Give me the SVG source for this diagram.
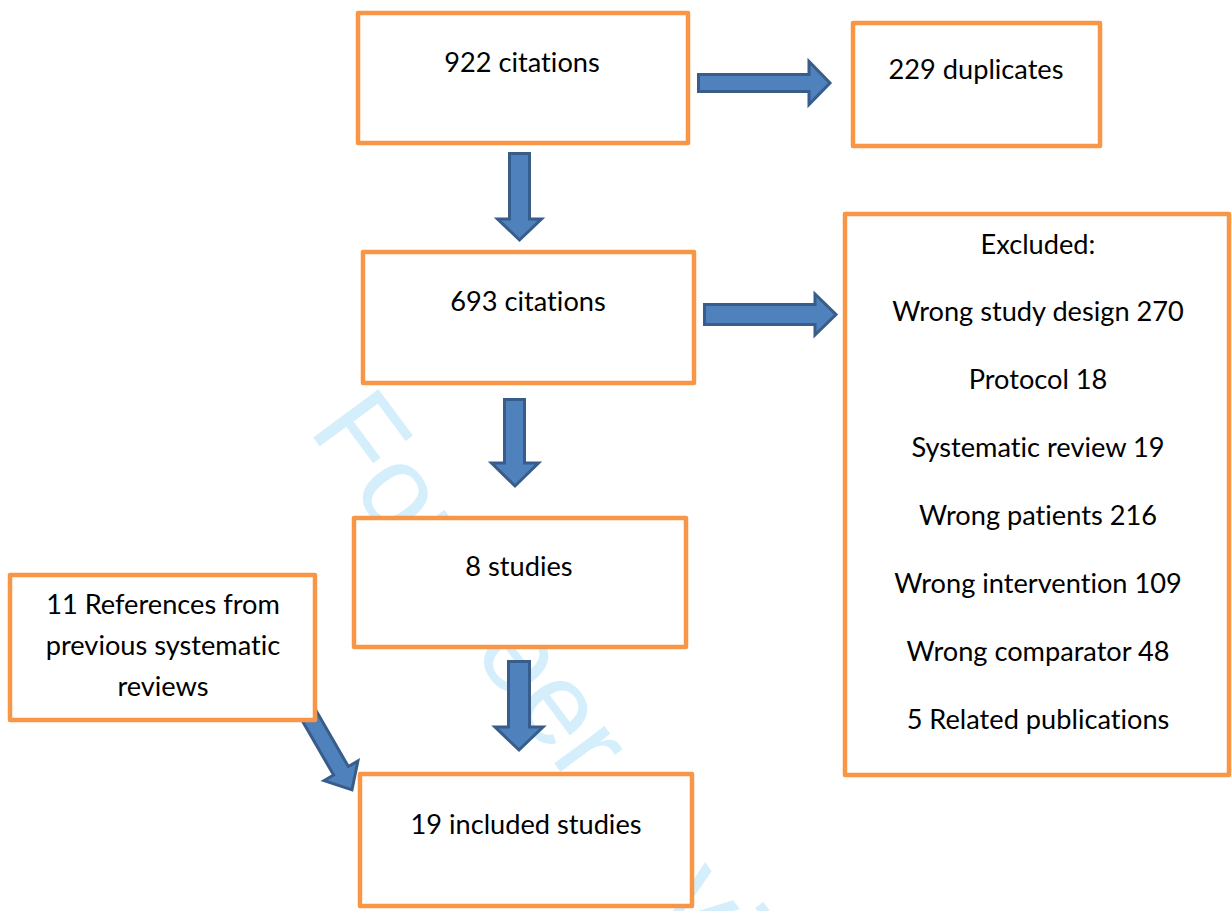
<svg xmlns="http://www.w3.org/2000/svg" width="1232" height="911" viewBox="0 0 1232 911">
<style>
.box{fill:#fff;stroke:#F79646;stroke-width:4.5;stroke-linejoin:round}
.arr{fill:#4F81BD;stroke:#385D8A;stroke-width:3;stroke-linejoin:miter}
.t{font-family:Lato,"Liberation Sans",sans-serif;font-size:27.2px;fill:#000;text-anchor:middle;font-variant-ligatures:none}
.wm{font-family:"Liberation Sans",Arial,sans-serif;font-size:118px;fill:#D4EEFB}
</style>
<rect width="1232" height="911" fill="#fff"/>
<text class="wm" transform="translate(307.6,429.8) rotate(53.5)">For peer review</text>
<g id="connectors">
<path class="arr" d="M698.5,74.5 H809 V61.5 L830,83 L809,104.5 V91.5 H698.5 Z"/>
<path class="arr" d="M704.5,304.5 H815 V294 L836,314.5 L815,335 V324.5 H704.5 Z"/>
<path class="arr" d="M509.5,153.5 V219 H497.5 L519.5,240 L541.5,219 H529.5 V153.5 Z"/>
<path class="arr" d="M504.5,399.5 V463 H491.5 L515,486 L538.5,463 H524.5 V399.5 Z"/>
<path class="arr" d="M508.5,661.5 V727 H495 L519,750 L543,727 H529.5 V661.5 Z"/>
<path class="arr" transform="translate(303,705) rotate(60)" d="M0,-8.5 H76 V-19.5 L98,0 L76,19.5 V8.5 H0 Z"/>
</g>
<g id="n1"><rect class="box" x="358" y="13" width="330" height="130"/><text class="t" x="522" y="72">922 citations</text></g>
<g id="n2"><rect class="box" x="853" y="23" width="247" height="123"/><text class="t" x="976" y="79">229 duplicates</text></g>
<g id="n3"><rect class="box" x="363" y="252" width="331" height="131"/><text class="t" x="528" y="311">693 citations</text></g>
<g id="n4"><rect class="box" x="845" y="214" width="384" height="561"/>
<text class="t" x="1038" y="254">Excluded:</text>
<text class="t" x="1038" y="321">Wrong study design 270</text>
<text class="t" x="1038" y="389">Protocol 18</text>
<text class="t" x="1038" y="457">Systematic review 19</text>
<text class="t" x="1038" y="525">Wrong patients 216</text>
<text class="t" x="1038" y="593">Wrong intervention 109</text>
<text class="t" x="1038" y="661">Wrong comparator 48</text>
<text class="t" x="1038" y="729">5 Related publications</text>
</g>
<g id="n5"><rect class="box" x="354" y="518" width="332" height="129"/><text class="t" x="519" y="576">8 studies</text></g>
<g id="n6"><rect class="box" x="10" y="575" width="305" height="145"/>
<text class="t" x="163" y="614">11 References from</text>
<text class="t" x="163" y="655">previous systematic</text>
<text class="t" x="163" y="696">reviews</text>
</g>
<g id="n7"><rect class="box" x="360" y="774" width="332" height="132"/><text class="t" x="526" y="834">19 included studies</text></g>
</svg>
